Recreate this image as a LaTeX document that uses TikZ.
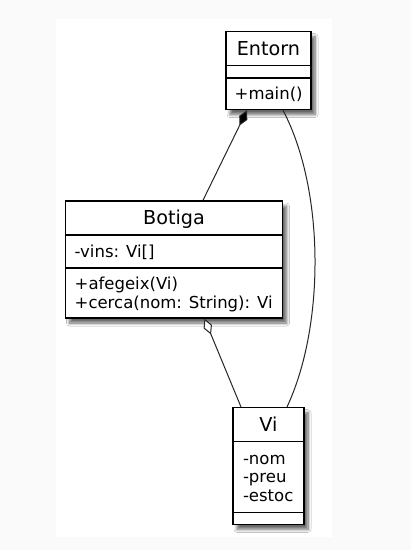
\documentclass[tikz,border=0pt]{standalone}
\usepackage{fontspec}
\setmainfont{DejaVu Sans}
\usetikzlibrary{arrows.meta,shadows.blur,calc}
\definecolor{pagebg}{HTML}{FAFAFA}
\tikzset{
  classbox/.style={draw=black, line width=1.5pt, fill=white, rectangle, inner sep=0pt,
    blur shadow={shadow xshift=4pt, shadow yshift=-5pt, shadow blur steps=8, shadow blur radius=3pt, shadow opacity=60}},
  divider/.style={line width=1.5pt},
  titletext/.style={anchor=base, inner sep=0pt, font=\fontsize{19.2}{23}\selectfont},
  membertext/.style={anchor=base west, inner sep=0pt, font=\fontsize{16.5}{19}\selectfont},
  link/.style={line width=1pt, draw=black!85},
  composition/.style={link, {Diamond[length=17pt, width=9pt, fill=black]}-},
  aggregation/.style={link, {Diamond[open, length=17pt, width=9pt, fill=white]}-}
}
\begin{document}
\begin{tikzpicture}[x=1pt, y=-1pt]
\useasboundingbox (0,0) rectangle (411,550);
\fill[pagebg] (0,0) rectangle (411,550);
\fill[white] (56,19) rectangle (332,537);

% Entorn
\node[classbox, minimum width=85pt, minimum height=77.9pt] (entorn) at (268.5,70.55) {};
\draw[divider] (entorn.west |- 0,65.3) -- (entorn.east |- 0,65.3);
\draw[divider] (entorn.west |- 0,77.9) -- (entorn.east |- 0,77.9);
\node[titletext] (entornT) at (268.5,55.1) {Entorn};
\node[membertext] (entornM) at (234.5,99.3) {+main()};

% Botiga
\node[classbox, minimum width=217pt, minimum height=117pt] (botiga) at (174,259.5) {};
\draw[divider] (botiga.west |- 0,235) -- (botiga.east |- 0,235);
\draw[divider] (botiga.west |- 0,268) -- (botiga.east |- 0,268);
\node[titletext] (botigaT) at (174,224) {Botiga};
\node[membertext] (botigaA) at (74.5,257) {-vins: Vi[]};
\node[membertext] (botigaM1) at (74.5,289) {+afegeix(Vi)};
\node[membertext] (botigaM2) at (74.5,308) {+cerca(nom: String): Vi};

% Vi
\node[classbox, minimum width=71pt, minimum height=116.6pt] (vi) at (268.5,466) {};
\draw[divider] (vi.west |- 0,441.7) -- (vi.east |- 0,441.7);
\draw[divider] (vi.west |- 0,512.7) -- (vi.east |- 0,512.7);
\node[titletext] (viT) at (268.5,431.7) {Vi};
\node[membertext] (viA1) at (242.8,464.3) {-nom};
\node[membertext] (viA2) at (242.8,482.9) {-preu};
\node[membertext] (viA3) at (242.8,501.5) {-estoc};

% connectors
\draw[composition] ($(entorn.south)+(-21.5,0)$) -- ($(botiga.north)+(29,0)$);
\draw[aggregation] ($(botiga.south)+(30.5,0)$) -- ($(vi.north)+(-27.5,0)$);
\draw[link] ($(entorn.south)+(14.5,0)$) .. controls (325,190) and (325,326) .. ($(vi.north)+(18.5,0)$);
\end{tikzpicture}
\end{document}
